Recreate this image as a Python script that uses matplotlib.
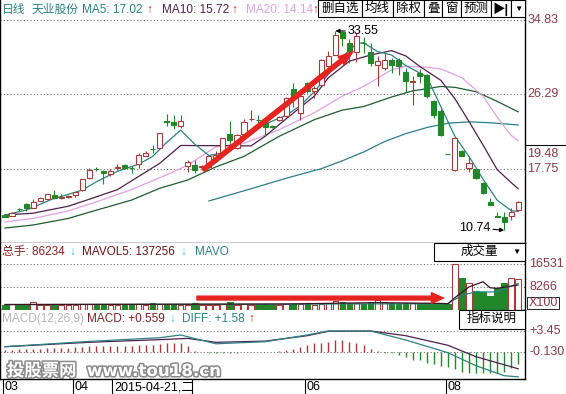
import numpy as np
import matplotlib
matplotlib.use('Agg')
import matplotlib.pyplot as plt
from matplotlib.patches import Rectangle
import matplotlib.patheffects as pe

plt.rcParams['font.family'] = ['Liberation Sans', 'Noto Sans CJK SC', 'DejaVu Sans']

# daily candles (prices)
opens = [12.45, 12.39, 13.17, 13.73, 13.29, 14.11, 14.36, 14.76, 14.48, 14.55,
         14.74, 15.31, 16.71, 17.80, 17.55, 17.20, 17.90, 18.24, 17.90, 18.35,
         19.27, 20.08, 20.20, 23.28, 23.09, 22.63, 18.12, 18.16, 18.02, 18.04,
         18.81, 19.58, 21.79, 20.15, 21.79, 23.45, 23.42, 23.02, 22.66, 23.32,
         23.77, 26.95, 24.16, 27.60, 26.64, 27.33, 29.51, 30.85, 33.41, 32.19,
         31.11, 32.22, 31.16, 29.70, 29.33, 30.28, 30.20, 28.83, 27.76, 28.75,
         28.56, 25.50, 24.35, 19.51, 17.66, 19.84, 17.86, 17.74, 16.14, 14.03,
         12.33, 12.31, 12.39, 13.07]
highs = [12.50, 12.80, 13.30, 13.91, 14.30, 14.50, 14.95, 15.30, 14.90, 14.80,
         15.15, 16.65, 17.86, 18.00, 17.60, 17.80, 18.30, 18.30, 18.10, 19.60,
         19.85, 20.45, 21.90, 24.08, 23.95, 23.90, 18.80, 18.73, 18.20, 19.30,
         19.76, 21.35, 23.20, 21.75, 23.48, 24.54, 23.97, 23.10, 22.80, 23.80,
         25.95, 27.60, 26.64, 27.70, 27.20, 30.30, 31.30, 33.55, 33.50, 32.60,
         33.30, 32.90, 32.20, 30.66, 31.05, 30.47, 30.47, 29.33, 28.36, 29.20,
         28.60, 25.70, 24.60, 19.51, 21.30, 19.95, 19.19, 17.80, 16.30, 14.40,
         12.80, 12.80, 13.27, 14.10]
lows = [12.25, 12.35, 13.00, 12.96, 13.25, 14.05, 14.30, 14.30, 14.30, 14.45,
        14.60, 15.25, 16.65, 17.55, 16.06, 17.00, 17.70, 17.80, 17.30, 17.90,
        19.20, 19.60, 20.15, 22.63, 22.35, 22.50, 17.47, 17.35, 17.70, 17.95,
        18.70, 19.50, 20.33, 20.10, 21.70, 23.20, 22.45, 21.48, 22.40, 23.25,
        23.70, 24.90, 23.40, 26.50, 25.88, 27.30, 29.40, 30.80, 31.80, 29.90,
        30.00, 31.00, 29.50, 27.20, 29.13, 28.75, 28.55, 26.53, 25.12, 27.60,
        25.90, 23.60, 21.50, 19.50, 17.55, 19.20, 17.47, 16.65, 14.95, 13.60,
        12.30, 10.74, 11.93, 13.00]
closes = [12.30, 12.77, 13.15, 13.27, 13.96, 14.42, 14.88, 14.49, 14.52, 14.65,
          15.10, 16.60, 17.66, 17.75, 17.28, 17.55, 17.95, 17.86, 17.85, 19.38,
          19.58, 20.02, 21.87, 23.09, 22.79, 23.28, 18.60, 17.66, 18.06, 19.19,
          19.38, 21.30, 21.02, 21.68, 23.13, 23.50, 23.38, 22.56, 22.60, 23.71,
          25.88, 26.00, 26.07, 26.64, 27.03, 30.28, 30.74, 33.14, 32.77, 31.23,
          33.03, 32.16, 29.90, 30.08, 30.28, 29.62, 29.51, 27.87, 27.82, 28.36,
          26.07, 23.97, 21.68, 19.50, 21.30, 19.27, 18.43, 16.71, 15.06, 13.65,
          12.31, 11.73, 12.88, 14.03]

# volume (x100)
volumes = [1600, 1850, 1500, 1900, 2600, 1800, 1800, 1900, 1700, 1700,
           1800, 2000, 2100, 1700, 1900, 1600, 1700, 1800, 1500, 2000,
           1700, 2300, 1900, 1700, 1900, 1800, 1600, 2300, 1500, 1800,
           1700, 1900, 2600, 1800, 1900, 1600, 1700, 1900, 1800, 1600,
           1900, 2000, 2100, 2200, 1800, 2000, 2300, 3000, 2600, 2200,
           2500, 2000, 2800, 3300, 2600, 2200, 2100, 2300, 2500, 2000,
           2300, 2100, 2200, 1900, 16531, 11320, 9500, 6700, 6450, 5000,
           7900, 9500, 11540, 11060]

# macd histogram
macd_hist = [0.30, 0.30, 0.35, 0.40, 0.45, 0.50, 0.55, 0.60, 0.60, 0.65,
             0.70, 0.80, 0.90, 0.95, 0.95, 0.95, 1.00, 1.00, 1.00, 1.05,
             1.10, 1.10, 1.20, 1.35, 1.40, 1.40, 0.90, 0.10, -0.15, -0.25,
             -0.25, -0.20, -0.20, -0.20, -0.15, -0.15, -0.15, -0.10, -0.10, 0.10,
             0.28, 0.50, 0.73, 1.06, 1.40, 1.40, 1.68, 1.96, 1.96, 1.68,
             1.40, 1.12, 0.40, 0.10, -0.17, -0.28, -0.56, -0.95, -1.40, -1.40,
             -1.85, -2.07, -2.40, -2.63, -2.97, -3.36, -3.53, -3.53, -3.64, -3.64,
             -3.64, -3.36, -2.80, -2.07]

# moving average lines, read at some candle positions
ma5_idx = [0, 3, 7, 9, 11, 13, 16, 19, 21, 23, 25, 27, 29, 31, 34, 37, 40, 42, 44,
           46, 48, 50, 51, 53, 55, 57, 60, 62, 64, 66, 68, 70, 72, 73]
ma5_val = [12.5, 13.05, 14.4, 14.85, 15.35, 16.3, 17.5, 18.3, 19.2, 20.8, 22.2, 20.6,
           19.3, 19.6, 21.6, 22.9, 23.9, 25.0, 26.6, 28.6, 30.6, 32.1, 32.2, 31.2,
           30.8, 29.6, 28.3, 24.9, 21.5, 19.2, 16.6, 14.2, 13.0, 12.9]
ma10_idx = [0, 4, 9, 12, 16, 19, 22, 25, 35, 37, 40, 44, 46, 49, 52, 55, 57, 59,
            62, 64, 66, 68, 70, 72, 73]
ma10_val = [12.5, 12.7, 13.5, 14.3, 15.4, 16.9, 18.4, 20.45, 20.4, 21.5, 23.5, 26.1,
            28.2, 30.1, 30.8, 31.3, 30.7, 29.5, 27.9, 25.8, 23.2, 20.5, 17.7, 16.2, 15.5]
ma20_idx = [0, 4, 9, 13, 18, 23, 26, 30, 34, 39, 44, 48, 51, 55, 57, 60, 62, 65,
            68, 70, 72, 73]
ma20_val = [11.7, 12.1, 12.95, 14.0, 15.4, 17.1, 18.2, 20.3, 20.7, 22.25, 24.2, 26.1,
            27.2, 29.1, 29.5, 29.4, 29.2, 28.2, 26.1, 23.7, 21.6, 21.0]
ma60_idx = [0, 4, 9, 13, 18, 22, 26, 30, 34, 39, 44, 48, 51, 55, 58, 62, 64, 67, 70, 73]
ma60_val = [11.0, 11.35, 12.1, 13.05, 14.2, 15.55, 16.5, 18.0, 19.2, 21.5, 23.4, 24.5,
            24.9, 26.0, 26.7, 27.2, 27.1, 26.6, 25.5, 24.3]
ma120_idx = [29, 35, 40, 45, 48, 51, 54, 57, 60, 63, 66, 69, 73]
ma120_val = [14.1, 15.5, 16.7, 17.8, 18.7, 19.7, 20.9, 21.8, 22.5, 23.0, 23.15, 23.05, 22.8]

mavol5_idx = [0, 20, 40, 53, 62, 63, 64, 66, 68, 69, 70, 73]
mavol5_val = [1800, 1900, 2000, 2500, 2200, 2100, 4300, 8200, 10100, 7900, 7700, 8900]
mavol10_idx = [0, 30, 62, 63, 65, 67, 70, 73]
mavol10_val = [1800, 1900, 2100, 2100, 5200, 6400, 6400, 9500]

dea_idx = [0, 12, 22, 26, 30, 37, 43, 46, 52, 57, 63, 67, 73]
dea_val = [0.81, 1.55, 2.0, 2.2, 1.55, 1.75, 2.66, 3.4, 3.45, 2.66, 1.05, -0.87, -2.9]
diff_idx = [0, 12, 22, 25, 30, 37, 43, 46, 52, 57, 63, 67, 71, 73]
diff_val = [0.81, 1.7, 2.32, 2.78, 1.3, 1.65, 2.78, 3.45, 3.45, 1.94, -0.2, -2.38, -4.06, -4.25]

price_ticks = [34.83, 26.29, 19.48, 17.75]
price_grid = [34.83, 26.29, 17.75]
vol_ticks = [16531, 8266]
macd_ticks = [3.45, -0.13]
macd_tick_text = ['+3.45', '-0.130']
month_idx = [0, 10, 43, 63]
month_text = ['03', '04', '06', '08']

# hand drawn arrows on the chart
price_arrow = [(28.2, 17.66), (49.5, 31.2)]
vol_arrow = [(27.3, 4150), (62.4, 4150)]

UP = '#a83a3a'
DOWN = '#22862a'
TEAL = '#2b8282'
PURPLE = '#4e1f4e'
PINK = '#e3a0e3'
DKGREEN = '#1e5e2e'
LONGTEAL = '#2a8088'
LABEL = '#8b3a48'
ARROW_RED = '#e52420'
CYAN = '#40c0e0'

W, H = 566, 394


def frac(x0, y0, x1, y1):
    return [x0 / W, 1 - y1 / H, (x1 - x0) / W, (y1 - y0) / H]


def clean(ax):
    ax.set_xticks([])
    ax.set_yticks([])
    ax.spines['top'].set_visible(False)
    for s in ['left', 'right', 'bottom']:
        ax.spines[s].set_linewidth(1.0)
        ax.spines[s].set_color('black')
    ax.set_xlim(-0.711, 73.97)


fig = plt.figure(figsize=(5.66, 3.94), dpi=100)
fig.patch.set_facecolor('white')

ax_p = fig.add_axes(frac(0, 0, 525, 243))
ax_v = fig.add_axes(frac(0, 243, 525, 309.5))
ax_m = fig.add_axes(frac(0, 309.5, 525, 378.5))
ax_x = fig.add_axes(frac(0, 378.5, 525, 394))
for a in [ax_p, ax_v, ax_m, ax_x]:
    clean(a)
ax_x.axis('off')

idx = np.arange(len(closes))
o = np.array(opens)
c = np.array(closes)
up = c > o
cols = [UP if u else DOWN for u in up]

dots = (0, (1, 2))

# ---- price panel
ax_p.set_ylim(9.29, 37.095)
for g in price_grid:
    ax_p.axhline(g, color='#707070', lw=0.8, ls=dots, zorder=1)
ax_p.vlines(idx, lows, highs, colors=cols, lw=0.8, zorder=3)
body_lo = np.minimum(o, c)
body_h = np.maximum(np.abs(c - o), 0.02)
ax_p.bar(idx, body_h, bottom=body_lo, width=0.72,
         facecolor=['white' if u else DOWN for u in up],
         edgecolor=cols, lw=0.8, zorder=4)
ax_p.plot(ma120_idx, ma120_val, color=LONGTEAL, lw=0.9, zorder=2)
ax_p.plot(ma60_idx, ma60_val, color=DKGREEN, lw=0.9, zorder=2)
ax_p.plot(ma20_idx, ma20_val, color=PINK, lw=0.9, zorder=2)
ax_p.plot(ma10_idx, ma10_val, color=PURPLE, lw=0.9, zorder=2)
ax_p.plot(ma5_idx, ma5_val, color=TEAL, lw=0.9, zorder=2)

ax_p.annotate('', xy=price_arrow[1], xytext=price_arrow[0],
              arrowprops=dict(arrowstyle='simple,head_length=0.9,head_width=0.6,tail_width=0.25',
                              color=ARROW_RED, shrinkA=0, shrinkB=0, mutation_scale=12), zorder=6)

hi = int(np.argmax(highs))
lo = int(np.argmin(lows))
ax_p.annotate('%.2f' % highs[hi], xy=(hi, highs[hi]), xytext=(9, 0), textcoords='offset points',
              ha='left', va='center', fontsize=9, color='black',
              arrowprops=dict(arrowstyle='-|>', color='black', lw=0.8, mutation_scale=6,
                              shrinkA=0, shrinkB=0), zorder=6)
ax_p.annotate('%.2f' % lows[lo], xy=(lo, lows[lo]), xytext=(-10, 2), textcoords='offset points',
              ha='right', va='center', fontsize=9, color='black',
              arrowprops=dict(arrowstyle='-|>', color='black', lw=0.8, mutation_scale=6,
                              shrinkA=0, shrinkB=0), zorder=6)

ytr = ax_p.get_yaxis_transform()
for t in price_ticks:
    ax_p.text(1.004, t, '%.2f' % t, transform=ytr, ha='left', va='center',
              fontsize=9, color=LABEL, clip_on=False)

# ---- volume panel
ax_v.set_ylim(0, 24170)
for g in vol_ticks:
    ax_v.axhline(g, color='#707070', lw=0.8, ls=dots, zorder=1)
ax_v.bar(idx, volumes, width=0.78, facecolor=['white' if u else DOWN for u in up],
         edgecolor=cols, lw=0.8, zorder=3)
ax_v.plot(mavol10_idx, mavol10_val, color=TEAL, lw=0.9, zorder=4)
ax_v.plot(mavol5_idx, mavol5_val, color='#3a1424', lw=0.9, zorder=4)
ax_v.annotate('', xy=vol_arrow[1], xytext=vol_arrow[0],
              arrowprops=dict(arrowstyle='simple,head_length=0.8,head_width=0.7,tail_width=0.25',
                              color=ARROW_RED, shrinkA=0, shrinkB=0, mutation_scale=11), zorder=6)
ytr = ax_v.get_yaxis_transform()
for t in vol_ticks:
    ax_v.text(1.008, t, str(t), transform=ytr, ha='left', va='center',
              fontsize=9, color=LABEL, clip_on=False)

# ---- macd panel
ax_m.set_ylim(-4.53, 7.06)
for g in macd_ticks:
    ax_m.axhline(g, color='#707070', lw=0.8, ls=dots, zorder=1)
h = np.array(macd_hist)
ax_m.vlines(idx, 0, h, colors=[UP if v > 0 else DOWN for v in h], lw=1.0, zorder=2)
ax_m.plot(dea_idx, dea_val, color=PURPLE, lw=0.9, zorder=3)
ax_m.plot(diff_idx, diff_val, color=TEAL, lw=0.9, zorder=3)
ytr = ax_m.get_yaxis_transform()
for t, s in zip(macd_ticks, macd_tick_text):
    ax_m.text(1.008, t, s, transform=ytr, ha='left', va='center',
              fontsize=9, color=LABEL, clip_on=False)

# ---- date strip
ax_x.set_ylim(0, 1)
for m, s in zip(month_idx, month_text):
    ax_x.vlines(m - 0.3, 0, 1, color='black', lw=0.8)
    ax_x.text(m - 0.05, 0.45, s, ha='left', va='center', fontsize=9, color='black')

# ---- overlay in pixel units for header texts, buttons and boxes
ov = fig.add_axes([0, 0, 1, 1], zorder=10)
ov.set_xlim(0, W)
ov.set_ylim(H, 0)
ov.axis('off')
ov.patch.set_alpha(0)

header = [('日线', 2, TEAL), ('天业股份', 32, TEAL), ('MA5: 17.02', 82, TEAL), ('↑', 146, ARROW_RED),
          ('MA10: 15.72', 162, PURPLE), ('↑', 231, ARROW_RED), ('MA20: 14.14', 246, PINK),
          ('↑', 312, ARROW_RED)]
for s, x, col in header:
    ov.text(x, 9.5, s, ha='left', va='center', fontsize=8.5, color=col,
            weight='bold' if s == '↑' else 'normal')

btn_edges = [318, 362, 393, 424, 442, 461, 491, 511, 525]
btn_text = ['删自选', '均线', '除权', '叠', '窗', '预测', '▶|', '▼']
for k, s in enumerate(btn_text):
    x0, x1 = btn_edges[k], btn_edges[k + 1]
    ov.add_patch(Rectangle((x0, 0), x1 - x0, 17, facecolor='white', edgecolor='black', lw=0.8))
    fs = 6 if s == '▼' else 9
    wt = 'bold' if s == '▶|' else 'normal'
    ov.text((x0 + x1) / 2, 9, s, ha='center', va='center', fontsize=fs, color='black', weight=wt)

ov.plot([525, 566], [144.5, 144.5], color='black', lw=0.8)

vol_head = [('总手: 86234', 2, '#8b2020'), ('↓', 69, CYAN), ('MAVOL5: 137256', 82, '#6a1414'),
            ('↓', 180, CYAN), ('MAVO', 195, TEAL)]
for s, x, col in vol_head:
    ov.text(x, 252, s, ha='left', va='center', fontsize=8.5, color=col)

macd_head = [('MACD(12,26,9)', 2, '#b4b4b4'), ('MACD: +0.559', 87, '#7a1f1f'), ('↓', 169, CYAN),
             ('DIFF: +1.58', 182, TEAL), ('↑', 248, ARROW_RED)]
for s, x, col in macd_head:
    ov.text(x, 319, s, ha='left', va='center', fontsize=8.5, color=col)

ov.add_patch(Rectangle((434, 243), 91, 18, facecolor='white', edgecolor='black', lw=0.8))
ov.text(479, 252, '成交量', ha='center', va='center', fontsize=9, color='black')
ov.text(516, 252, '▼', ha='center', va='center', fontsize=6, color='black')
ov.add_patch(Rectangle((459, 309.5), 66, 19, facecolor='white', edgecolor='black', lw=0.8))
ov.text(492, 319, '指标说明', ha='center', va='center', fontsize=9, color='black')
ov.add_patch(Rectangle((527, 297), 32, 12, facecolor='white', edgecolor='black', lw=0.6))
ov.text(529, 303, 'X100', ha='left', va='center', fontsize=9, color=LABEL)

ov.add_patch(Rectangle((112, 379), 80, 15, facecolor='white', edgecolor='black', lw=0.8))
ov.text(114, 387, '2015-04-21,二', ha='left', va='center', fontsize=9, color='black')

stroke = [pe.withStroke(linewidth=2.2, foreground='#8a8a8a')]
ov.text(7, 371, '投股票网', ha='left', va='center', fontsize=12.5, weight='bold',
        color='white', family=['Noto Sans CJK SC'], path_effects=stroke)
ov.text(87, 371, 'www.tou18.cn', ha='left', va='center', fontsize=12, weight='bold',
        color='white', family=['DejaVu Sans'], path_effects=stroke)

fig.savefig('out.png', dpi=100)
